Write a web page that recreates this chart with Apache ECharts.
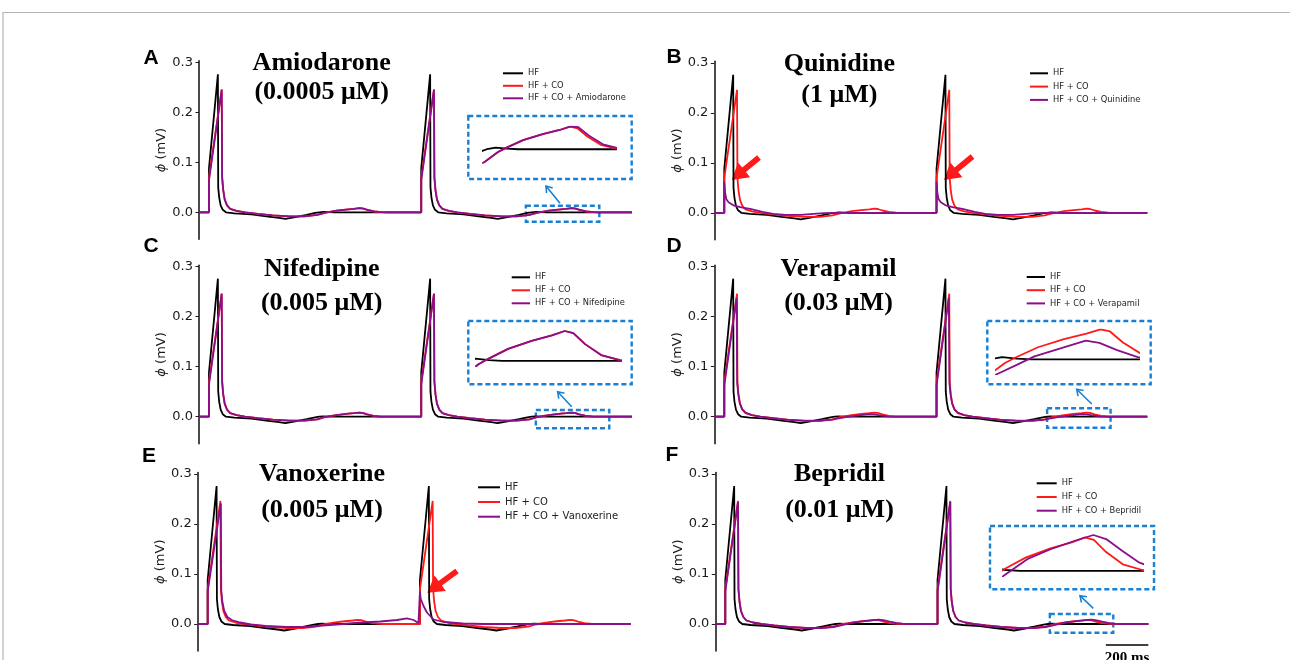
<!DOCTYPE html>
<html>
<head>
<meta charset="utf-8">
<script src="https://cdn.jsdelivr.net/npm/echarts@6/dist/echarts.min.js"></script>
<style>
  html, body { margin: 0; padding: 0; background: #fff; }
  #chart { width: 1290px; height: 660px; }
</style>
</head>
<body>
<div id="chart"></div>
<script>
// ---- data: pseudo-ECG traces (time in ms, phi in mV) ----
const STIMULI = [47, 1047];          // pacing instants
const TRACE_END = 2040;              // end of each trace
const Y_TICKS = [0, 0.1, 0.2, 0.3];
const SCALE_BAR_MS = 200;

// one paced beat, time relative to its stimulus
const BEAT_HF = [
  [0, 0], [0, 0.088], [42, 0.276], [43.5, 0.05], [48, 0.03], [55, 0.014], [65, 0.005], [80, 0],
  [120, -0.002], [200, -0.004], [270, -0.008], [330, -0.011], [360, -0.013], [400, -0.01],
  [460, -0.005], [500, -0.0012], [520, 0], [540, 0.0006], [565, 0.0002], [590, 0]
];
const BEAT_HF_CO = [
  [0, 0], [0, 0.07], [60, 0.246], [62, 0.07], [67, 0.045], [74, 0.026], [85, 0.014], [100, 0.007],
  [130, 0.003], [170, 0], [230, -0.003], [300, -0.006], [380, -0.008], [450, -0.008], [510, -0.0052],
  [545, -0.001], [563, 0.0005], [601, 0.0033], [645, 0.0055], [683, 0.007], [707, 0.0082],
  [723, 0.0076], [745, 0.0046], [775, 0.0016], [810, 0.0002], [835, 0]
];
const BEAT_AMIODARONE = [
  [0, 0], [0, 0.064], [60, 0.245], [62, 0.07], [67, 0.045], [74, 0.026], [85, 0.014], [100, 0.007],
  [130, 0.003], [170, 0], [230, -0.003], [300, -0.006], [380, -0.008], [450, -0.008], [510, -0.0052],
  [545, -0.001], [563, 0.0005], [601, 0.0033], [645, 0.0055], [683, 0.007], [707, 0.0083],
  [725, 0.008], [748, 0.005], [780, 0.0018], [815, 0.0003], [840, 0]
];
const BEAT_QUINIDINE = [
  [0, 0], [0, 0.062], [4, 0.04], [10, 0.027], [20, 0.021], [43, 0.015], [80, 0.011], [122, 0.008],
  [180, 0.002], [230, -0.002], [290, -0.004], [360, -0.004], [420, -0.002], [470, -0.0005], [520, 0]
];
const BEAT_NIFEDIPINE = [
  [0, 0], [0, 0.064], [60, 0.246], [62, 0.07], [67, 0.045], [74, 0.026], [85, 0.014], [100, 0.007],
  [130, 0.003], [170, 0], [230, -0.003], [300, -0.006], [380, -0.008], [450, -0.008], [510, -0.0052],
  [545, -0.001], [563, 0.0005], [601, 0.0033], [645, 0.0055], [683, 0.007], [707, 0.0082],
  [723, 0.0076], [745, 0.0046], [775, 0.0016], [810, 0.0002], [835, 0]
];
const BEAT_VERAPAMIL = [
  [0, 0], [0, 0.062], [58, 0.237], [61, 0.066], [66, 0.045], [73, 0.027], [84, 0.015], [100, 0.008],
  [130, 0.003], [170, 0], [230, -0.003], [300, -0.0065], [380, -0.0085], [450, -0.0085], [510, -0.006],
  [532, -0.004], [565, -0.0015], [595, 0.0008], [635, 0.0028], [682, 0.0051], [705, 0.0045],
  [735, 0.0025], [770, 0.0006], [805, 0]
];
const BEAT_BEPRIDIL = [
  [0, 0], [0, 0.065], [60, 0.244], [62, 0.07], [67, 0.045], [74, 0.026], [85, 0.014], [100, 0.007],
  [130, 0.003], [170, 0], [230, -0.003], [300, -0.006], [380, -0.008], [450, -0.008], [510, -0.006],
  [560, -0.0013], [605, 0.003], [645, 0.0053], [685, 0.0072], [722, 0.0088], [745, 0.0078],
  [775, 0.0048], [805, 0.002], [835, 0.0005], [860, 0]
];
// vanoxerine suppresses the second beat: full trace, absolute time
const TRACE_VANOXERINE = [
  [0, 0], [47, 0], [47, 0.065], [109, 0.241], [111, 0.068], [116, 0.045], [125, 0.026], [140, 0.014],
  [160, 0.008], [200, 0.003], [250, -0.001], [320, -0.004], [420, -0.006], [500, -0.006], [560, -0.004],
  [620, -0.002], [686, 0], [740, 0.002], [800, 0.0035], [860, 0.005], [900, 0.0065], [940, 0.008],
  [986, 0.0114], [1017, 0.008], [1040, 0.002], [1047, 0], [1047, 0.065], [1051, 0.05], [1064, 0.036],
  [1080, 0.023], [1111, 0.009], [1158, 0.004], [1250, 0.001], [1350, 0], [2040, 0]
];

// zoomed windows (ms after the second stimulus) and their phi ranges
const INSET_WINDOWS = { A: [512, 807], C: [541, 809], D: [531, 771], F: [560, 809] };
const INSET_RANGES = { A: [-0.0049, 0.0082], C: [-0.0014, 0.0082], D: [-0.004, 0.0082], F: [-0.0013, 0.0088] };
// highlighted region in the main trace: [t0, phi0, t1, phi1]
const ZOOM_REGIONS = {
  A: [1540, -0.0188, 1886, 0.0132],
  C: [1587, -0.0232, 1933, 0.0134],
  D: [1568, -0.022, 1867, 0.0168],
  F: [1576, -0.0174, 1875, 0.02]
};

const DRUGS = ['Amiodarone', 'Quinidine', 'Nifedipine', 'Verapamil', 'Vanoxerine', 'Bepridil'];
const DOSES = ['(0.0005 μM)', '(1 μM)', '(0.005 μM)', '(0.03 μM)', '(0.005 μM)', '(0.01 μM)'];
const LETTERS = ['A', 'B', 'C', 'D', 'E', 'F'];

function paced(beat) {
  const pts = [[0, 0]];
  STIMULI.forEach(s => beat.forEach(([t, v]) => pts.push([s + t, v])));
  pts.push([TRACE_END, 0]);
  return pts;
}
const HF = paced(BEAT_HF);
const HF_CO = paced(BEAT_HF_CO);
const DRUG_TRACES = [
  paced(BEAT_AMIODARONE), paced(BEAT_QUINIDINE), paced(BEAT_NIFEDIPINE),
  paced(BEAT_VERAPAMIL), TRACE_VANOXERINE, paced(BEAT_BEPRIDIL)
];

// ---- layout ----
const COL = { black: '#000000', red: '#ff1a1a', purple: '#8a0f8a', blue: '#1a80d4', axis: '#1e1e1e' };
const PLOT_W = 433, PLOT_H = 178.5;
const LAYOUT = [
  { left: 199,   top: 60.8,  title: [321.7, 63, 92.5],   letter: [151, 58],
    legend: { left: 503, top: 68.3, w: 20, fs: 8.3, lh: 10, gap: 2.5 } },
  { left: 714.3, top: 61.3,  title: [839.3, 64.5, 95],   letter: [674, 57.5],
    legend: { left: 1030, top: 68.3, w: 18, fs: 8.3, lh: 10, gap: 3.3 } },
  { left: 199,   top: 265.2, title: [321.7, 269.5, 303], letter: [151, 246],
    legend: { left: 511.7, top: 272.3, w: 18.3, fs: 8.3, lh: 10, gap: 3 } },
  { left: 714.3, top: 265.2, title: [838.5, 269.5, 303], letter: [674, 246],
    legend: { left: 1026.7, top: 272, w: 18.3, fs: 8.3, lh: 10, gap: 3.2 } },
  { left: 197.7, top: 472.5, title: [322, 474.5, 510],   letter: [149, 456],
    legend: { left: 478, top: 481.3, w: 22, fs: 10, lh: 12, gap: 2.7 } },
  { left: 715.3, top: 472.5, title: [839.5, 474.5, 510], letter: [672, 455],
    legend: { left: 1036.7, top: 478.3, w: 20, fs: 8.3, lh: 10, gap: 3.7 } }
];
const INSETS = [
  { panel: 0, key: 'A', box: [468.3, 116, 163.4, 63],   plot: [483.3, 126.7, 131.7, 36],  arrow: [560, 203.3, 546, 186] },
  { panel: 2, key: 'C', box: [468.3, 321, 163.4, 63.3], plot: [476, 331, 143.3, 35],      arrow: [571.7, 406.7, 557.7, 391.7] },
  { panel: 3, key: 'D', box: [987.3, 321, 163.4, 63.3], plot: [996.7, 329.3, 141.6, 44.7], arrow: [1091.7, 404, 1076.7, 389.3] },
  { panel: 5, key: 'F', box: [990, 526, 164, 63.3],     plot: [1003.3, 535, 138.4, 41.1],  arrow: [1093.3, 608.3, 1080, 595.7] }
];
const RED_ARROWS = [[759, 157.5, 731.7, 180], [972.5, 156.5, 944, 180], [457, 571, 427.3, 592.7]];

const grid = [], xAxis = [], yAxis = [], series = [], legend = [], graphic = [];

function traceSeries(name, data, color, gi, extra) {
  return Object.assign({
    type: 'line', name, data, xAxisIndex: gi, yAxisIndex: gi,
    showSymbol: false, symbol: 'none', color,
    lineStyle: { color, width: 1.8 }, silent: true, animation: false
  }, extra || {});
}

LAYOUT.forEach((L, i) => {
  grid.push({ left: L.left, top: L.top, width: PLOT_W, height: PLOT_H });
  xAxis.push({ type: 'value', gridIndex: i, min: 0, max: TRACE_END, show: false });
  yAxis.push({
    type: 'value', gridIndex: i, min: -0.054, max: 0.303,
    axisLine: { show: true, onZero: false, lineStyle: { color: COL.axis, width: 1.6 } },
    axisTick: { show: true, customValues: Y_TICKS, length: 3.5, lineStyle: { color: COL.axis, width: 1 } },
    axisLabel: { customValues: Y_TICKS, formatter: v => v.toFixed(1), margin: 6,
                 fontFamily: 'DejaVu Sans', fontSize: 13, color: '#1a1a1a' },
    splitLine: { show: false },
    name: '{i|ϕ} (mV)', nameLocation: 'middle', nameGap: 27,
    nameTextStyle: { fontFamily: 'DejaVu Sans', fontSize: 13, color: '#1a1a1a',
                     rich: { i: { fontFamily: 'DejaVu Sans', fontSize: 13, fontStyle: 'italic', color: '#1a1a1a' } } }
  });
  const drugName = 'HF + CO + ' + DRUGS[i];
  const zr = ZOOM_REGIONS[LETTERS[i]];
  series.push(traceSeries('HF', HF, COL.black, i, zr ? {
    markArea: {
      silent: true,
      itemStyle: { color: 'rgba(0,0,0,0)', borderColor: COL.blue, borderWidth: 2.4, borderType: [5, 3] },
      data: [[{ coord: [zr[0], zr[3]] }, { coord: [zr[2], zr[1]] }]]
    }
  } : null));
  series.push(traceSeries('HF + CO', HF_CO, COL.red, i));
  series.push(traceSeries(drugName, DRUG_TRACES[i], COL.purple, i));

  const lg = L.legend;
  legend.push({
    data: ['HF', 'HF + CO', drugName], orient: 'vertical', left: lg.left, top: lg.top,
    icon: 'rect', itemWidth: lg.w, itemHeight: 2, itemGap: lg.gap, padding: 0,
    selectedMode: false,
    textStyle: { fontFamily: 'DejaVu Sans', fontSize: lg.fs, lineHeight: lg.lh, color: '#222' }
  });

  graphic.push({ type: 'text', x: L.title[0], y: L.title[1], silent: true,
    style: { text: DRUGS[i], font: 'bold 26px "Liberation Serif"', fill: '#000', textAlign: 'center', textVerticalAlign: 'middle' } });
  graphic.push({ type: 'text', x: L.title[0], y: L.title[2], silent: true,
    style: { text: DOSES[i], font: 'bold 26px "Liberation Serif"', fill: '#000', textAlign: 'center', textVerticalAlign: 'middle' } });
  graphic.push({ type: 'text', x: L.letter[0], y: L.letter[1], silent: true,
    style: { text: LETTERS[i], font: 'bold 21px "Liberation Sans"', fill: '#000', textAlign: 'center', textVerticalAlign: 'middle' } });
});

// zoomed insets of the second-beat T-wave region
INSETS.forEach(ins => {
  const gi = grid.length;
  const [px, py, pw, ph] = ins.plot;
  const win = INSET_WINDOWS[ins.key], rng = INSET_RANGES[ins.key];
  grid.push({ left: px, top: py, width: pw, height: ph });
  xAxis.push({ type: 'value', gridIndex: gi, min: STIMULI[1] + win[0], max: STIMULI[1] + win[1], show: false });
  yAxis.push({ type: 'value', gridIndex: gi, min: rng[0], max: rng[1], show: false });
  series.push(traceSeries('HF', HF, COL.black, gi));
  series.push(traceSeries('HF + CO', HF_CO, COL.red, gi));
  series.push(traceSeries('HF + CO + ' + DRUGS[ins.panel], DRUG_TRACES[ins.panel], COL.purple, gi));

  const [bx, by, bw, bh] = ins.box;
  graphic.push({ type: 'rect', silent: true, shape: { x: bx, y: by, width: bw, height: bh },
    style: { fill: null, stroke: COL.blue, lineWidth: 2.4, lineDash: [5, 3] } });
  const [x1, y1, x2, y2] = ins.arrow;
  const ang = Math.atan2(y2 - y1, x2 - x1), arm = 7, spread = 0.6;
  graphic.push({ type: 'polyline', silent: true, shape: { points: [[x1, y1], [x2, y2]] },
    style: { stroke: COL.blue, lineWidth: 1.6, fill: null } });
  graphic.push({ type: 'polyline', silent: true, shape: { points: [
      [x2 - arm * Math.cos(ang - spread), y2 - arm * Math.sin(ang - spread)], [x2, y2],
      [x2 - arm * Math.cos(ang + spread), y2 - arm * Math.sin(ang + spread)]] },
    style: { stroke: COL.blue, lineWidth: 1.6, fill: null } });
});

// thick red arrows marking the suppressed beats
RED_ARROWS.forEach(([x1, y1, x2, y2]) => {
  const dx = x2 - x1, dy = y2 - y1, len = Math.hypot(dx, dy);
  const ux = dx / len, uy = dy / len, nx = -uy, ny = ux;
  const head = 16, hw = 9.5, sw = 2.9;
  const hx = x2 - ux * head, hy = y2 - uy * head;
  graphic.push({ type: 'polygon', silent: true, shape: { points: [
      [x1 + nx * sw, y1 + ny * sw], [hx + nx * sw, hy + ny * sw], [hx + nx * hw, hy + ny * hw], [x2, y2],
      [hx - nx * hw, hy - ny * hw], [hx - nx * sw, hy - ny * sw], [x1 - nx * sw, y1 - ny * sw]] },
    style: { fill: COL.red } });
});

// time scale bar in panel F
const BAR_PHI = -0.042;
series.push({
  type: 'line', name: 'scale', xAxisIndex: 5, yAxisIndex: 5, showSymbol: false, symbol: 'none',
  silent: true, animation: false, color: '#000', lineStyle: { color: '#000', width: 1.6 },
  data: [[TRACE_END - SCALE_BAR_MS, BAR_PHI], [TRACE_END, BAR_PHI]]
});

// figure frame
graphic.push({ type: 'polyline', silent: true, shape: { points: [[3, 660], [3, 12.5], [1290, 12.5]] },
  style: { stroke: '#b5b5b5', lineWidth: 1.2, fill: null } });

const chart = echarts.init(document.getElementById('chart'), null, { renderer: 'canvas' });
chart.setOption({ backgroundColor: '#fff', animation: false, grid, xAxis, yAxis, series, legend, graphic });

const barMid = chart.convertToPixel({ gridIndex: 5 }, [TRACE_END - SCALE_BAR_MS / 2, BAR_PHI]);
graphic.push({ type: 'text', x: barMid[0], y: barMid[1] + 6, silent: true,
  style: { text: SCALE_BAR_MS + ' ms', font: 'bold 15px "Liberation Serif"', fill: '#000', textAlign: 'center', textVerticalAlign: 'top' } });
chart.setOption({ graphic });
</script>
</body>
</html>
